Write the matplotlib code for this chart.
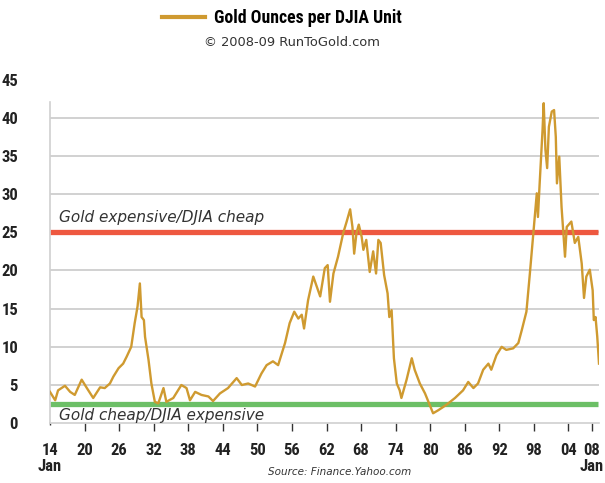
import matplotlib
matplotlib.use("Agg")
import matplotlib.pyplot as plt
from matplotlib.lines import Line2D
import logging
logging.getLogger("matplotlib.font_manager").setLevel(logging.ERROR)

years = [1914.0, 1914.9, 1915.4, 1916.6, 1917.5, 1918.3, 1919.5, 1920.4, 1921.5, 1922.7,
         1923.5, 1924.4, 1925.0, 1925.9, 1926.7, 1927.3, 1928.1, 1928.7, 1929.2, 1929.6,
         1929.9, 1930.3, 1930.5, 1931.1, 1931.6, 1932.2, 1932.8, 1933.7, 1934.2, 1935.4,
         1936.8, 1937.7, 1938.3, 1939.2, 1940.3, 1941.5, 1942.3, 1943.5, 1944.9, 1946.4,
         1947.3, 1948.4, 1949.6, 1950.7, 1951.6, 1952.7, 1953.6, 1954.8, 1955.6, 1956.4,
         1957.1, 1957.7, 1958.1, 1958.8, 1959.7, 1960.3, 1960.9, 1961.7, 1962.2, 1962.6,
         1963.2, 1964.0, 1964.9, 1965.5, 1966.1, 1966.5, 1966.8, 1967.2, 1967.6, 1968.1,
         1968.4, 1968.9, 1969.5, 1970.1, 1970.6, 1971.0, 1971.4, 1972.0, 1972.6, 1972.9,
         1973.3, 1973.7, 1974.2, 1974.7, 1975.0, 1975.9, 1976.8, 1977.3, 1978.2, 1979.1,
         1979.9, 1980.5, 1981.4, 1982.8, 1984.3, 1985.7, 1986.6, 1987.5, 1988.3, 1989.2,
         1990.1, 1990.6, 1991.5, 1992.4, 1993.2, 1994.4, 1995.3, 1995.9, 1996.7, 1997.3,
         1997.9, 1998.5, 1998.7, 1999.0, 1999.5, 1999.7, 2000.0, 2000.3, 2000.6, 2001.1,
         2001.5, 2001.8, 2002.0, 2002.4, 2002.8, 2003.4, 2003.7, 2004.5, 2005.1, 2005.7,
         2006.3, 2006.7, 2007.1, 2007.7, 2008.2, 2008.4, 2008.7, 2009.0, 2009.3]
ounces = [4.1, 3.0, 4.3, 4.9, 4.1, 3.7, 5.7, 4.6, 3.3, 4.7,
          4.6, 5.2, 6.1, 7.2, 7.8, 8.7, 10.0, 13.1, 15.3, 18.3,
          13.9, 13.5, 11.3, 8.3, 5.2, 2.8, 2.6, 4.6, 2.8, 3.3,
          5.0, 4.6, 3.0, 4.1, 3.7, 3.5, 2.9, 3.9, 4.6, 5.9,
          5.0, 5.2, 4.8, 6.5, 7.6, 8.1, 7.6, 10.5, 13.1, 14.6,
          13.7, 14.2, 12.4, 16.1, 19.2, 17.9, 16.6, 20.3, 20.7, 15.9,
          19.6, 21.8, 24.9, 26.4, 28.0, 25.7, 22.2, 24.9, 26.0, 24.4,
          22.7, 24.0, 19.8, 22.5, 19.6, 24.0, 23.6, 19.4, 17.0, 13.9,
          14.8, 8.5, 5.2, 4.3, 3.3, 5.7, 8.5, 7.0, 5.2, 3.9,
          2.4, 1.3, 1.7, 2.4, 3.3, 4.3, 5.4, 4.6, 5.2, 7.0,
          7.8, 7.0, 8.9, 10.0, 9.6, 9.8, 10.5, 12.2, 14.6, 19.6,
          24.9, 30.1, 27.0, 31.4, 38.4, 41.9, 35.8, 33.4, 38.8, 40.8,
          41.0, 37.5, 31.4, 34.9, 28.3, 21.8, 25.7, 26.4, 23.6, 24.4,
          20.9, 16.4, 19.2, 20.1, 17.4, 13.5, 13.9, 11.3, 7.8]

expensive_level = 25
cheap_level = 2.5
x_ticks = [1914, 1920, 1926, 1932, 1938, 1944, 1950, 1956, 1962, 1968, 1974, 1980,
           1986, 1992, 1998, 2004, 2008]
x_labels = ["14\nJan", "20", "26", "32", "38", "44", "50", "56", "62", "68", "74", "80",
            "86", "92", "98", "04", "08\nJan"]
y_ticks = [0, 5, 10, 15, 20, 25, 30, 35, 40, 45]

GOLD = "#CF9A30"
RED = "#EE5840"
GREEN = "#6CBF66"
cond = ["Roboto Condensed", "Fira Sans Condensed", "PT Sans Narrow",
        "Barlow Condensed", "DejaVu Sans"]

fig = plt.figure(figsize=(6.05, 4.83), dpi=100)
ax = fig.add_axes([50/605, 1-423.2/483, 549/605, (423.2-79.5)/483])
ax.set_xlim(1914, 2009.3)
ax.set_ylim(0, 45)

for g in y_ticks[1:-1]:
    ax.axhline(g, color="#CACACA", lw=1.2, zorder=1)

ax.plot([1914, 2009.2], [expensive_level]*2, color=RED, lw=3.8, solid_capstyle="butt", zorder=2)
ax.plot([1914, 2009.2], [cheap_level]*2, color=GREEN, lw=3.8, solid_capstyle="butt", zorder=2)
ax.plot(years, ounces, color=GOLD, lw=1.7, zorder=3)

for s in ["top", "right"]:
    ax.spines[s].set_visible(False)
ax.spines["left"].set_color("#D0D0D0")
ax.spines["left"].set_bounds(0, 42)
ax.spines["bottom"].set_color("#D0D0D0")
ax.spines["left"].set_linewidth(1.2)
ax.spines["bottom"].set_linewidth(1.2)

ax.set_yticks(y_ticks)
ax.set_yticklabels([str(v) for v in y_ticks], family=cond, fontweight="bold",
                   fontsize=12, color="#222222")
ax.tick_params(axis="y", length=0, pad=23)
ax.set_xticks(x_ticks)
ax.set_xticklabels(x_labels, family=cond, fontweight="bold", fontsize=12,
                   color="#222222", linespacing=1.15)
ax.tick_params(axis="x", length=6, width=1, color="#333333", pad=8, direction="out")
first = ax.xaxis.get_major_ticks()[0]
first.tick1line.set_color("#E03020")
first.tick1line.set_markersize(1.5)

ax.text(1915.5, expensive_level + 0.9, "Gold expensive/DJIA cheap", fontsize=11,
        style="italic", color="#333333", va="bottom", ha="left", family="DejaVu Sans")
ax.text(1915.5, cheap_level - 0.55, "Gold cheap/DJIA expensive", fontsize=11,
        style="italic", color="#333333", va="top", ha="left", family="DejaVu Sans")

handle = Line2D([], [], color=GOLD, lw=3)
fig.legend([handle], ["Gold Ounces per DJIA Unit"], loc="center",
           bbox_to_anchor=(282/605, 1-18.3/483), frameon=False,
           prop={"family": cond, "weight": "bold", "size": 12.8},
           handlelength=2.4, handletextpad=0.5, borderpad=0, borderaxespad=0)
fig.text(291.5/605, 1-42.8/483, "\u00a9 2008-09 RunToGold.com", ha="center", va="center",
         fontsize=9.4, color="#333333", family="DejaVu Sans")
fig.text(340/605, 1-472/483, "Source: Finance.Yahoo.com", ha="center", va="center",
         fontsize=7.5, style="italic", color="#333333", family="DejaVu Sans")

fig.savefig("out.png", dpi=100)
